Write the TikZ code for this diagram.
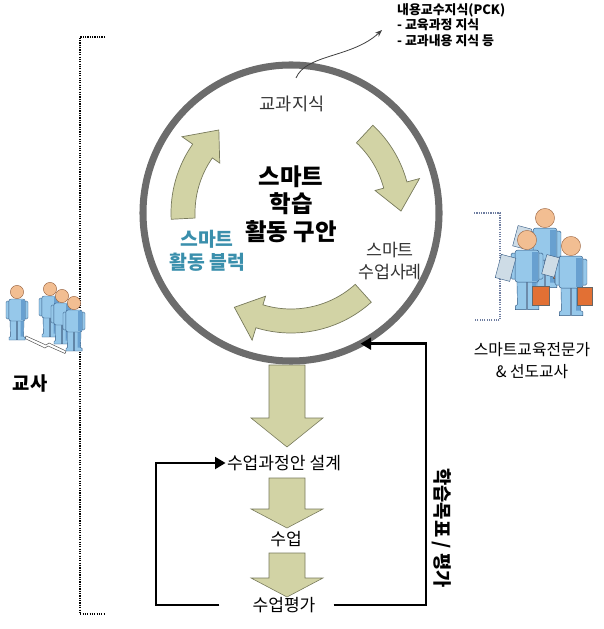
\documentclass[tikz,border=0pt]{standalone}
\usepackage{fontspec}
\setmainfont{Noto Sans CJK KR}
\usetikzlibrary{arrows.meta}

\definecolor{ringgray}{RGB}{108,108,108}
\definecolor{olivefill}{RGB}{210,211,165}
\definecolor{oliveline}{RGB}{120,122,92}
\definecolor{tealtxt}{RGB}{58,143,172}
\definecolor{figblue}{RGB}{150,200,234}
\definecolor{figshade}{RGB}{104,160,208}
\definecolor{figline}{RGB}{50,88,130}
\definecolor{skin}{RGB}{242,190,146}
\definecolor{skinline}{RGB}{150,95,60}
\definecolor{caseorange}{RGB}{226,112,52}
\definecolor{tabgray}{RGB}{206,220,230}
\definecolor{dotblue}{RGB}{110,125,160}

\tikzset{
  figbody/.style = {fill=figblue, draw=figline, line width=0.35pt},
  figskin/.style = {fill=skin, draw=skinline, line width=0.35pt},
  % one standing figure, origin at the head
  person/.pic = {
    \draw[figbody] (-7,26) -- (-0.4,26) -- (-0.4,48) -- (-8,48) -- (-8,45.5) -- (-6.6,44.5) -- cycle;
    \draw[figbody] (0.4,26) -- (7,26) -- (6.6,44.5) -- (8.2,45.5) -- (8.2,48) -- (0.4,48) -- cycle;
    \fill[figshade] (3.5,27) -- (6.6,27) -- (6.3,44.5) -- (3.5,44.5) -- cycle;
    \draw[figbody, rounded corners=1.2pt] (-11,9) rectangle (-7,27);
    \draw[figbody, rounded corners=1.2pt] (7,9) rectangle (11,27);
    \draw[figbody, rounded corners=2pt] (-8.2,7) rectangle (8.2,29);
    \fill[figshade] (3.5,8.2) rectangle (7.5,28.4);
    \draw[figskin] (0,0) circle (6.6);
  }
}

\begin{document}
\begin{tikzpicture}[x=0.03cm, y=-0.03cm,
    ring/.style = {circle, draw=ringgray, line width=6pt, minimum size=8.88cm, inner sep=0pt, outer sep=0pt},
    lbl/.style = {font=\fontsize{14.6}{18}\selectfont, inner sep=1pt},
    cycarrow/.style = {fill=olivefill, draw=oliveline, line width=0.6pt},
    blk/.style = {fill=olivefill, draw=oliveline, line width=0.5pt},
    fb/.style = {line width=2.4pt, -{Triangle[length=9pt, width=10pt]}},
    bracket/.style = {densely dotted, line width=1pt}]
\useasboundingbox (0,0) rectangle (603,629);

% dotted bracket of the teacher group
\draw[bracket] (105,37) -| (80,614) -- (105,614);

% fat arrows down the lesson column
\foreach \t/\b/\p in {365/418/447, 478/509/528, 553/578/597}
  \draw[blk] (269,\t) -- (305,\t) -- (305,\b) -- (323,\b) -- (287,\p) -- (251,\b) -- (269,\b) -- cycle;

\node[ring] (ring) at (291,213) {};

% the three turning arrows
\begin{scope}[shift={(291,213)}]
  \foreach \a/\b in {313/359, 48/121, 177/229} {
    \pgfmathsetmacro\h{\b-14}
    \draw[cycarrow] (\a:120) arc[start angle=\a, end angle=\h, radius=120]
      -- (\h:133) -- (\b:110) -- (\h:87) -- (\h:96)
      arc[start angle=\h, end angle=\a, radius=96] -- cycle;
  }
\end{scope}

\node[font=\fontsize{15}{18}\selectfont, text=black!80] (subject) at (292,104) {교과지식};
\node[font=\bfseries\fontsize{20}{23.5}\selectfont, align=center] (title) at (291,204) {스마트\\학습\\활동 구안};
\node[font=\bfseries\fontsize{16.5}{20}\selectfont, text=tealtxt, align=center] (block) at (207,251) {스마트\\활동 블럭};
\node[font=\fontsize{14.8}{18.5}\selectfont, text=black!80, align=center] (cases) at (390,261) {스마트\\수업사례};

% PCK note with its pointer
\node[font=\bfseries\fontsize{11}{13.2}\selectfont, align=left, inner sep=0pt, anchor=north west] (pck) at (397,3)
  {내용교수지식(PCK)\\- 교육과정 지식\\- 교과내용 지식 등};
\coordinate (pckfoot) at (296,78);
\coordinate (pcktip) at (382,30);
\draw[black!75, line width=0.7pt, -{Stealth[length=6pt]}] (pckfoot) .. controls (306,54) and (352,58) .. (pcktip);

% lesson column
\node[lbl] (design) at (284,463) {수업과정안 설계};
\node[lbl] (lesson) at (286,539) {수업};
\node[lbl] (eval) at (284,605) {수업평가};

\coordinate (loopL) at (156,0);
\coordinate (loopR) at (426,0);
\coordinate (hit) at (ring.-62);
\draw[fb] ([xshift=-9.5mm]eval.west) -| (loopL |- design.west) -- (design.west);
\draw[fb] ([xshift=5mm]eval.east) -| (loopR |- hit) -- (hit);
\node[font=\bfseries\fontsize{16}{18}\selectfont, rotate=-90] (goal) at (442,528) {학습목표 / 평가};

% teachers
\draw[fill=white, draw=black!70, line width=0.4pt] (26,336) -- (46,345) -- (49,343) -- (66,351) -- (65,353.5) -- (48,346) -- (45,348) -- (25,338.5) -- cycle;
\pic (t1) at (17,292) {person};
\pic (t2) at (50,289) {person};
\pic (t3) at (62,296) {person};
\pic (t4) at (74,303) {person};
\node[font=\bfseries\fontsize{16}{18}\selectfont] (teacher) at (30,383) {교사};

% experts with tablets and briefcases
\draw[bracket, dotblue] (474,213) -| (500,320) -- (474,320);
\pic[scale=1.45] (e1) at (545,218) {person};
\draw[fill=tabgray, draw=figline, line width=0.35pt, rotate around={-15:(522,238)}] (515,227) rectangle (529,248);
\draw[fill=caseorange, draw=black!60, line width=0.35pt] (553,264) rectangle (566,278);
\pic[scale=1.45] (e2) at (527,240) {person};
\draw[fill=tabgray, draw=figline, line width=0.35pt, rotate around={-15:(506,268)}] (498,256) rectangle (513,280);
\draw[fill=caseorange, draw=black!60, line width=0.35pt] (532,286) rectangle (549,305);
\pic[scale=1.45] (e3) at (571,246) {person};
\draw[fill=tabgray, draw=figline, line width=0.35pt, rotate around={-15:(551,266)}] (544,256) rectangle (557,276);
\draw[fill=caseorange, draw=black!60, line width=0.35pt] (577,287) rectangle (592,305);
\node[font=\fontsize{13.5}{18.7}\selectfont, align=center] (expert) at (532,361) {스마트교육전문가\\\& 선도교사};
\end{tikzpicture}
\end{document}
